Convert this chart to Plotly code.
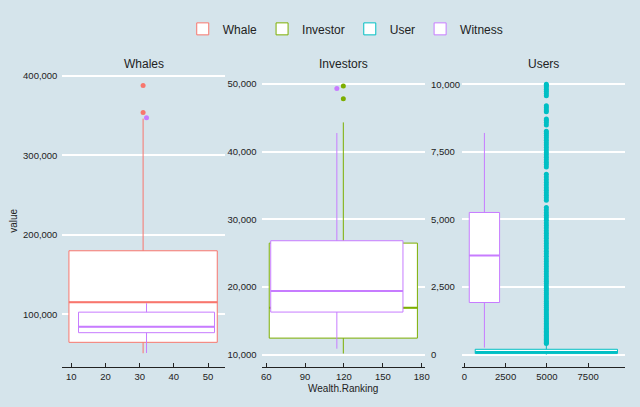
import plotly.graph_objects as go

# ---------------- data ----------------
panel_titles = ["Whales", "Investors", "Users"]
group_names = ["Whale", "Investor", "User", "Witness"]
group_colors = ["#F8766D", "#7CAE00", "#00BFC4", "#C77CFF"]

# box statistics (one row per box, in drawing order)
box_panel = [1, 1, 2, 2, 3, 3]
box_group = ["Whale", "Witness", "Investor", "Witness", "User", "Witness"]
box_center = [31.0, 32.0, 119.5, 114.5, 4968, 1218]      # Wealth.Ranking centre
box_span = [43.4, 39.8, 114.3, 102.0, 8616, 1836]         # Wealth.Ranking spread
box_lower = [51250, 51600, 10150, 10870, 0, 257]
box_q1 = [65000, 77100, 12430, 16280, 37, 1926]
box_median = [115400, 84600, 16910, 19410, 95, 3665]
box_q3 = [180000, 102900, 26470, 26820, 195, 5257]
box_upper = [346000, 114100, 44310, 42740, 400, 8199]

# outliers per box (same order as above)
whale_outliers = [387500, 353750]
witness_whales_outliers = [347000]
investor_outliers = [49700, 47800]
witness_investors_outliers = [49310]
user_outliers = [
    405, 440, 478, 520, 565, 612, 660, 710, 760, 812, 865, 920, 975, 1032, 1090,
    1150, 1212, 1275, 1340, 1405, 1472, 1540, 1610, 1680, 1752, 1825, 1900, 1975,
    2052, 2130, 2210, 2290, 2372, 2455, 2540, 2625, 2712, 2800, 2890, 2980, 3070,
    3162, 3255, 3350, 3445, 3540, 3635, 3730, 3825, 3920, 4015, 4110, 4205, 4300,
    4395, 4490, 4585, 4680, 4775, 4870, 4965, 5060, 5155, 5250, 5345, 5440,
    5710, 5800, 5890, 5985, 6080, 6175, 6270, 6370, 6470, 6570, 6668,
    6940, 7030, 7120, 7210, 7300, 7390, 7480, 7570, 7660, 7750, 7840, 7930, 8020,
    8110, 8190, 8265,
    8498, 8590, 8660, 8718,
    8987, 9050, 9130, 9208,
    9577, 9660, 9740, 9820, 9900, 9960, 10000,
]
witness_users_outliers = []
box_outliers = [whale_outliers, witness_whales_outliers, investor_outliers,
                witness_investors_outliers, user_outliers, witness_users_outliers]

# axis ticks
x_ticks = [[10, 20, 30, 40, 50], [60, 90, 120, 150, 180], [0, 2500, 5000, 7500]]
x_ranges = [[7.39, 54.93], [56.4, 182.5], [-162, 9738]]
y_ticks = [[100000, 200000, 300000, 400000],
           [10000, 20000, 30000, 40000, 50000],
           [0, 2500, 5000, 7500, 10000]]
y_tick_text_users = ["0", "2,500", "5,000", "7,500", "10,000"]
y_ranges = [[33750, 404250], [8132, 51721], [-468, 10446]]

# ---------------- figure ----------------
BG = "#d5e4eb"
TXT = "#222222"
FONT = "Liberation Sans"
W, H = 640, 407
x_domains = [[62 / W, 226 / W], [263 / W, 428 / W], [465 / W, 630 / W]]
y_domain = [1 - 367 / H, 1 - 70.6 / H]

color_of = dict(zip(group_names, group_colors))
rank_of = {g: i + 1 for i, g in enumerate(group_names)}

fig = go.Figure()
shown = set()
for i in range(len(box_panel)):
    p = box_panel[i]
    g = box_group[i]
    c = color_of[g]
    ax = "" if p == 1 else str(p)
    show = g not in shown
    shown.add(g)
    fig.add_trace(go.Box(
        x=[box_center[i]], q1=[box_q1[i]], median=[box_median[i]], q3=[box_q3[i]],
        lowerfence=[box_lower[i]], upperfence=[box_upper[i]],
        width=box_span[i], orientation="v",
        name=g, legendgroup=g, showlegend=show, legendrank=rank_of[g],
        fillcolor="white", line=dict(color=c, width=1), boxpoints=False,
        whiskerwidth=0, xaxis="x" + ax, yaxis="y" + ax, hoverinfo="skip",
    ))
    # thicker median line, drawn as a degenerate box right after its box
    fig.add_trace(go.Box(
        x=[box_center[i]], q1=[box_median[i]], median=[box_median[i]], q3=[box_median[i]],
        lowerfence=[box_median[i]], upperfence=[box_median[i]],
        width=box_span[i], orientation="v",
        name=g, legendgroup=g, showlegend=False,
        fillcolor="rgba(0,0,0,0)", line=dict(color=c, width=2), boxpoints=False,
        whiskerwidth=0, xaxis="x" + ax, yaxis="y" + ax, hoverinfo="skip",
    ))
    if box_outliers[i]:
        fig.add_trace(go.Scatter(
            x=[box_center[i]] * len(box_outliers[i]), y=box_outliers[i],
            mode="markers", marker=dict(color=c, size=5),
            legendgroup=g, showlegend=False, xaxis="x" + ax, yaxis="y" + ax,
            hoverinfo="skip",
        ))

layout = dict(
    width=W, height=H,
    paper_bgcolor=BG, plot_bgcolor=BG,
    margin=dict(l=0, r=0, t=0, b=0),
    font=dict(family=FONT, size=10, color=TXT),
    boxmode="overlay",
    legend=dict(orientation="h", x=348 / W, xanchor="center", y=1 - 27 / H,
                yanchor="middle", font=dict(size=12, color=TXT),
                bgcolor="rgba(0,0,0,0)", itemwidth=30, tracegroupgap=0),
)
for p in range(3):
    sfx = "" if p == 0 else str(p + 1)
    layout["xaxis" + sfx] = dict(
        domain=x_domains[p], range=x_ranges[p], tickvals=x_ticks[p],
        showgrid=False, zeroline=False, showline=True, linecolor=TXT, linewidth=1,
        ticks="inside", ticklen=4, tickcolor=TXT, tickwidth=1,
        tickfont=dict(size=9.5, color=TXT), anchor="y" + sfx,
    )
    layout["yaxis" + sfx] = dict(
        domain=y_domain, range=y_ranges[p], tickvals=y_ticks[p], tickformat=",",
        showgrid=True, gridcolor="white", gridwidth=1.8, zeroline=False,
        showline=False, ticks="", tickfont=dict(size=9.5, color=TXT),
        ticklabelstandoff=4, showticklabels=(p != 2), anchor="x" + sfx,
    )
fig.update_layout(**layout)

# panel titles
for p in range(3):
    fig.add_annotation(text=panel_titles[p], xref="paper", yref="paper",
                       x=sum(x_domains[p]) / 2, y=1 - 62 / H, xanchor="center",
                       yanchor="middle", showarrow=False,
                       font=dict(size=12, color=TXT))
# left-aligned tick labels of the Users panel
for v, t in zip(y_ticks[2], y_tick_text_users):
    fig.add_annotation(text=t, xref="paper", yref="y3", x=431.7 / W, y=v,
                       xanchor="left", yanchor="middle", showarrow=False,
                       font=dict(size=9.5, color=TXT))
# axis titles
fig.add_annotation(text="Wealth.Ranking", xref="paper", yref="paper",
                   x=sum(x_domains[1]) / 2, y=1 - 388 / H, xanchor="center",
                   yanchor="middle", showarrow=False, font=dict(size=10, color=TXT))
fig.add_annotation(text="value", xref="paper", yref="paper", x=13 / W, y=1 - 220 / H,
                   xanchor="center", yanchor="middle", textangle=-90,
                   showarrow=False, font=dict(size=10, color=TXT))

fig.write_html("out.html")
